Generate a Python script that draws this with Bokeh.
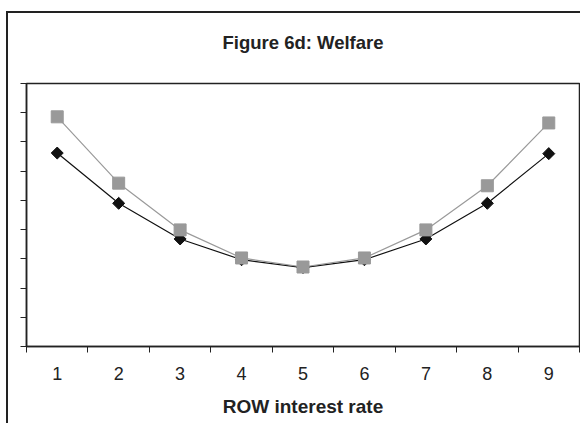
import math
from bokeh.plotting import figure
from bokeh.models import ColumnDataSource, FixedTicker, Range1d, Title, InlineStyleSheet
from bokeh.embed import file_html
from bokeh.resources import INLINE

categories = ["1", "2", "3", "4", "5", "6", "7", "8", "9"]
series_black = [6.62, 4.90, 3.68, 2.97, 2.70, 2.97, 3.68, 4.90, 6.60]
series_grey = [7.86, 5.59, 3.99, 3.03, 2.72, 3.03, 3.99, 5.50, 7.65]
y_ticks = [0, 1, 2, 3, 4, 5, 6, 7, 8, 9]
title_text = "Figure 6d: Welfare"

xpos = [i + 0.5 for i in range(len(categories))]
src = ColumnDataSource(dict(x=xpos, cat=categories, b=series_black, g=series_grey))

p = figure(width=580, height=423, output_backend="svg", toolbar_location=None,
           x_range=Range1d(0, len(categories)), y_range=Range1d(y_ticks[0], y_ticks[-1]),
           min_border_left=26, min_border_right=1, min_border_top=83, min_border_bottom=77)
p.background_fill_color = "white"
p.border_fill_color = "white"
p.outline_line_color = "#222222"
p.outline_line_width = 1.5
p.xgrid.visible = False
p.ygrid.visible = False

p.title = Title(text=title_text, align="center", vertical_align="top",
                text_font="Liberation Sans", text_font_size="18.5px", text_font_style="bold",
                text_color="#222222", standoff=58)

# x axis: labels at category centres, ticks between categories
p.xaxis.ticker = FixedTicker(ticks=xpos, minor_ticks=list(range(len(categories) + 1)))
p.xaxis.major_label_overrides = {x: c for x, c in zip(xpos, categories)}
p.xaxis.major_tick_line_color = None
p.xaxis.minor_tick_line_color = "#222222"
p.xaxis.minor_tick_out = 6
p.xaxis.minor_tick_in = 0
p.xaxis.axis_line_color = "#222222"
p.xaxis.axis_line_width = 1.5
p.xaxis.major_label_text_font = "Liberation Sans"
p.xaxis.major_label_text_font_size = "18px"
p.xaxis.major_label_text_color = "#222222"
p.xaxis.major_label_standoff = 14
p.xaxis.axis_label = "ROW interest rate"
p.xaxis.axis_label_text_font = "Liberation Sans"
p.xaxis.axis_label_text_font_size = "19px"
p.xaxis.axis_label_text_font_style = "bold"
p.xaxis.axis_label_text_color = "#222222"
p.xaxis.axis_label_standoff = 13

# y axis: unlabeled ticks (drawn as minor ticks so no labels are produced)
p.yaxis.ticker = FixedTicker(ticks=[], minor_ticks=y_ticks)
p.yaxis.major_tick_line_color = None
p.yaxis.minor_tick_out = 6
p.yaxis.minor_tick_in = 0
p.yaxis.minor_tick_line_color = "#222222"
p.yaxis.axis_line_color = "#222222"
p.yaxis.axis_line_width = 1.5

p.line("x", "b", source=src, line_color="#111111", line_width=1.2)
p.scatter("x", "b", source=src, marker="square", angle=math.pi / 4, size=8.5,
          fill_color="#111111", line_color="#111111")
p.line("x", "g", source=src, line_color="#9a9a9a", line_width=1.2)
p.scatter("x", "g", source=src, marker="square", size=12,
          fill_color="#999999", line_color="#999999")

p.stylesheets = [InlineStyleSheet(css="""
:host::before {
  content: '';
  position: absolute;
  left: 6px; top: 11px; right: 0px; bottom: 0px;
  border-left: 2px solid #222222;
  border-top: 2px solid #222222;
  pointer-events: none;
  z-index: 10;
}
""")]

open("out.html", "w").write(file_html(p, INLINE))
